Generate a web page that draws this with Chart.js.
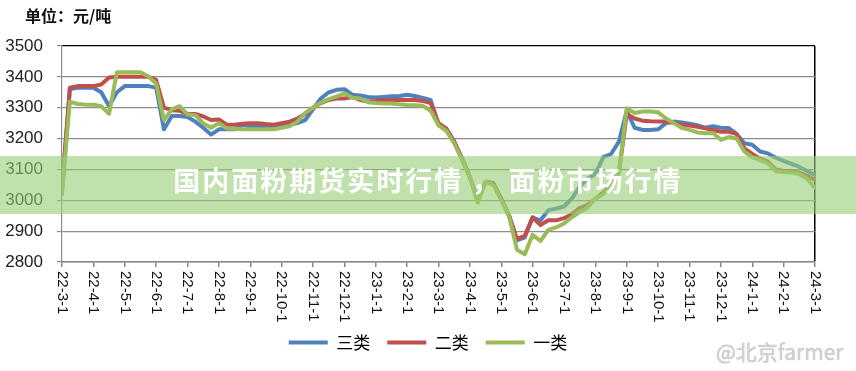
<!DOCTYPE html>
<html>
<head>
<meta charset="utf-8">
<script src="https://cdn.jsdelivr.net/npm/chart.js@4.4.1/dist/chart.umd.min.js"></script>
<style>
    body { margin: 0; background: #fff; }
    #wrap { position: relative; width: 856px; height: 371px; overflow: hidden; }
    #unit {
        position: absolute; left: 25px; top: 3px;
        font: bold 16px "Noto Sans CJK SC", sans-serif; color: #111;
    }
    #banner {
        position: absolute; left: 0; top: 156px; width: 856px; height: 54px; padding-top: 4px;
        background: rgba(150, 205, 115, 0.6);
        color: #fff; text-align: center; line-height: 58px;
        font: bold 27px "Noto Sans CJK SC", sans-serif; letter-spacing: 2px;
    }
    #mark {
        position: absolute; left: 716px; top: 336px;
        font: 21px "Noto Sans CJK SC", sans-serif; color: rgba(215, 215, 215, 0.9);
        text-shadow: 0 0 1px #999;
    }
</style>
</head>
<body>
<div id="wrap">
    <canvas id="flourChart" width="856" height="371"></canvas>
    <div id="unit">单位：元/吨</div>
    <div id="banner">国内面粉期货实时行情 ， 面粉市场行情</div>
    <div id="mark">@北京farmer</div>
</div>
<script>
// months since 22-3-1, one point per week (approx)
const weeks = [
    0, 0.25, 0.5, 0.75, 1, 1.25, 1.5, 1.75, 2, 2.25, 2.5, 2.75, 3,
    3.25, 3.5, 3.75, 4, 4.25, 4.5, 4.75, 5, 5.25, 5.5, 5.75, 6,
    6.25, 6.5, 6.75, 7, 7.25, 7.5, 7.75, 8, 8.25, 8.5, 8.75, 9,
    9.25, 9.5, 9.75, 10, 10.25, 10.5, 10.75, 11, 11.25, 11.5, 11.75, 12,
    12.25, 12.5, 12.75, 13, 13.25, 13.5, 13.75, 14, 14.25, 14.5, 14.75, 15,
    15.25, 15.5, 15.75, 16, 16.25, 16.5, 16.75, 17, 17.25, 17.5, 17.75, 18,
    18.25, 18.5, 18.75, 19, 19.25, 19.5, 19.75, 20, 20.25, 20.5, 20.75, 21,
    21.25, 21.5, 21.75, 22, 22.25, 22.5, 22.75, 23, 23.25, 23.5, 23.75, 24
];

const monthLabels = [
    "22-3-1", "22-4-1", "22-5-1", "22-6-1", "22-7-1", "22-8-1", "22-9-1",
    "22-10-1", "22-11-1", "22-12-1", "23-1-1", "23-2-1", "23-3-1", "23-4-1",
    "23-5-1", "23-6-1", "23-7-1", "23-8-1", "23-9-1", "23-10-1", "23-11-1",
    "23-12-1", "24-1-1", "24-2-1", "24-3-1"
];

const seriesNames = ["三类", "二类", "一类"];

const grade3 = [
    3030, 3360, 3365, 3365, 3365, 3350, 3305, 3350, 3370, 3370, 3370, 3370, 3365,
    3230, 3273, 3273, 3270, 3255, 3235, 3213, 3230, 3230, 3230, 3245, 3240,
    3240, 3238, 3237, 3240, 3245, 3250, 3260, 3295, 3330, 3350, 3358, 3360,
    3342, 3340, 3335, 3333, 3335, 3337, 3338, 3342, 3338, 3332, 3325, 3245,
    3232, 3190, 3135, 3075, 3000, 3060, 3055, 3005, 2950, 2870, 2880, 2944,
    2935, 2968, 2973, 2980, 3005, 3044, 3070, 3085, 3140, 3150, 3190, 3290,
    3235, 3228, 3228, 3230, 3250, 3255, 3252, 3248, 3243, 3235, 3240, 3235,
    3234, 3215, 3185, 3180, 3158, 3152, 3138, 3128, 3118, 3108, 3095, 3082
];

const grade2 = [
    3040, 3365, 3370, 3370, 3370, 3375, 3398, 3400, 3400, 3400, 3400, 3400, 3390,
    3300, 3292, 3290, 3280, 3280, 3272, 3260, 3262, 3245, 3245, 3248, 3250,
    3250, 3247, 3245, 3250, 3255, 3265, 3280, 3300, 3315, 3325, 3330, 3330,
    3335, 3325, 3320, 3322, 3325, 3325, 3325, 3325, 3325, 3322, 3315, 3250,
    3232, 3190, 3135, 3075, 3000, 3060, 3055, 3005, 2950, 2875, 2885, 2945,
    2920, 2935, 2935, 2942, 2955, 2975, 2985, 3005, 3025, 3050, 3090, 3280,
    3265, 3258, 3256, 3255, 3255, 3250, 3245, 3242, 3238, 3233, 3228, 3222,
    3222, 3215, 3168, 3150, 3135, 3125, 3100, 3095, 3093, 3090, 3080, 3066
];

const grade1 = [
    3020, 3320, 3312, 3310, 3310, 3305, 3280, 3415, 3415, 3415, 3415, 3402, 3378,
    3260, 3295, 3305, 3278, 3276, 3250, 3235, 3250, 3233, 3232, 3230, 3230,
    3230, 3230, 3230, 3235, 3240, 3255, 3283, 3300, 3316, 3328, 3336, 3347,
    3332, 3330, 3318, 3315, 3314, 3314, 3311, 3309, 3308, 3306, 3290, 3243,
    3225, 3185, 3130, 3075, 2992, 3060, 3050, 3000, 2948, 2840, 2825, 2888,
    2868, 2904, 2912, 2925, 2945, 2962, 2976, 3005, 3020, 3045, 3090, 3298,
    3283, 3288, 3288, 3285, 3265, 3250, 3235, 3228, 3220, 3217, 3218, 3196,
    3205, 3200, 3158, 3140, 3130, 3120, 3095, 3092, 3090, 3085, 3070, 3040
];

const colors = ["#4f81bd", "#c0504d", "#9bbb59"];

const toPoints = values => values.map((v, i) => ({ x: weeks[i], y: v }));

// x labels read top-to-bottom in the original, so they are drawn by hand
const verticalLabels = {
    id: "verticalLabels",
    afterDraw(chart) {
        const scale = chart.scales.x;
        const c = chart.ctx;
        c.save();
        c.font = "15px 'Liberation Sans', Arial, sans-serif";
        c.fillStyle = "#111";
        c.textAlign = "left";
        c.textBaseline = "middle";
        scale.ticks.forEach(t => {
            const px = scale.getPixelForValue(t.value);
            c.save();
            c.translate(px, chart.chartArea.bottom + 9);
            c.rotate(Math.PI / 2);
            c.fillText(monthLabels[t.value], 0, 0);
            c.restore();
        });
        c.restore();
    }
};

document.addEventListener("DOMContentLoaded", () => {

    const ctx = document.getElementById("flourChart");

    new Chart(ctx, {
        type: "line",
        data: {
            datasets: [grade3, grade2, grade1].map((vals, i) => ({
                label: seriesNames[i],
                data: toPoints(vals),
                borderColor: colors[i],
                backgroundColor: colors[i],
                borderWidth: 4,
                borderCapStyle: "round",
                borderJoinStyle: "round",
                pointRadius: 0,
                tension: 0,
                order: 3 - i
            }))
        },
        options: {
            responsive: false,
            animation: false,
            layout: { padding: { top: 46, right: 0, left: 0, bottom: 10 } },
            plugins: {
                tooltip: { enabled: false },
                legend: {
                    position: "bottom",
                    labels: {
                        usePointStyle: true,
                        pointStyle: "line",
                        pointStyleWidth: 39,
                        padding: 17,
                        color: "#000",
                        font: { size: 17, family: "'Noto Sans CJK SC', sans-serif" },
                        sort: (a, b) => a.datasetIndex - b.datasetIndex
                    }
                }
            },
            scales: {
                x: {
                    type: "linear",
                    min: 0,
                    max: 24,
                    afterFit: scale => { scale.height = 55; },
                    ticks: {
                        stepSize: 1,
                        autoSkip: false,
                        minRotation: 90,
                        maxRotation: 90,
                        color: "rgba(0,0,0,0)",
                        callback: v => monthLabels[v]
                    },
                    grid: {
                        color: c => c.index === 24 ? "#000" : "rgba(0,0,0,0)",
                        tickColor: "#888",
                        tickLength: 5,
                        lineWidth: 1.5
                    },
                    border: { color: "#888", width: 1.5 }
                },
                y: {
                    min: 2800,
                    max: 3500,
                    afterFit: scale => { scale.width = 62; },
                    ticks: {
                        stepSize: 100,
                        padding: 14,
                        color: "#222",
                        font: { size: 17, family: "'Liberation Sans', Arial, sans-serif" },
                        callback: v => String(v)
                    },
                    grid: {
                        color: c => c.tick.value === 3500 ? "#000" : "#8c8c8c",
                        tickColor: "#8c8c8c",
                        tickLength: 5,
                        lineWidth: 1.2
                    },
                    border: { color: "#8c8c8c", width: 1.2 }
                },
                // empty right-hand axis: keeps the right margin so the legend centres on the page
                yRight: {
                    position: "right",
                    min: 2800,
                    max: 3500,
                    afterFit: scale => { scale.width = 41; },
                    ticks: { display: false },
                    grid: { display: false },
                    border: { display: false }
                }
            }
        },
        plugins: [verticalLabels]
    });

});
</script>
</body>
</html>
